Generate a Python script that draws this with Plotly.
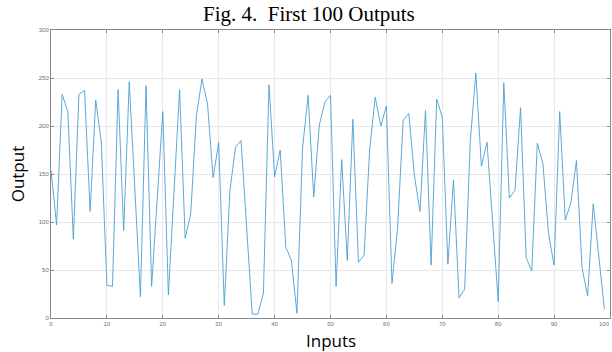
import plotly.graph_objects as go

inputs = list(range(100))
outputs = [154, 97, 233, 215, 82, 233, 237, 111, 227, 183,
           34, 33, 238, 91, 246, 134, 22, 242, 33, 124,
           215, 24, 131, 238, 83, 109, 210, 249, 223, 146,
           183, 13, 132, 178, 185, 95, 4, 4, 26, 243,
           147, 175, 74, 60, 5, 177, 232, 126, 201, 225,
           232, 33, 165, 60, 207, 58, 65, 175, 230, 200,
           221, 36, 94, 206, 213, 149, 111, 216, 55, 228,
           209, 56, 144, 21, 30, 184, 255, 158, 183, 100,
           17, 245, 125, 133, 219, 63, 49, 182, 161, 88,
           55, 215, 102, 120, 164, 52, 23, 119, 64, 9]
x_ticks = list(range(0, 101, 10))
y_ticks = list(range(0, 301, 50))

W, H = 612, 352
L, R, T, B = 50.7, 1.7, 30.3, 33.7
pw, ph = W - L - R, H - T - B

fig = go.Figure()
fig.add_trace(go.Scatter(x=inputs, y=outputs, mode="lines",
                         line=dict(color="#4a9fd0", width=0.9), showlegend=False))

tick_font = dict(family="Liberation Sans", size=6, color="#707070")
axis_common = dict(showline=True, linecolor="#8a8a8a", linewidth=1, mirror="ticks",
                   ticks="inside", ticklen=3, tickcolor="#8a8a8a",
                   showgrid=True, gridcolor="#e8e8e8", gridwidth=1, zeroline=False,
                   tickfont=tick_font)

fig.update_xaxes(range=[0, 100], tickvals=x_ticks, **axis_common)
fig.update_yaxes(range=[0, 300], tickvals=y_ticks, **axis_common)

fig.update_layout(
    width=W, height=H,
    margin=dict(l=L, r=R, t=T, b=B, pad=0),
    plot_bgcolor="white", paper_bgcolor="white",
    annotations=[
        dict(text="Fig. 4.\u00a0\u00a0First 100 Outputs", xref="paper", yref="paper",
             x=(309 - L) / pw, y=(H - B - 14) / ph, showarrow=False,
             xanchor="center", yanchor="middle",
             font=dict(family="Liberation Serif", size=21, color="black")),
        dict(text="Output", xref="paper", yref="paper", textangle=-90,
             x=(17 - L) / pw, y=0.5, showarrow=False, xanchor="center", yanchor="middle",
             font=dict(family="Open Sans", size=17, color="black")),
        dict(text="Inputs", xref="paper", yref="paper",
             x=0.5, y=-(341 - (H - B)) / ph, showarrow=False, xanchor="center", yanchor="middle",
             font=dict(family="Open Sans", size=17, color="black")),
        dict(text=str(x_ticks[-1]), xref="x", yref="paper", x=x_ticks[-1],
             y=-(324 - (H - B)) / ph, showarrow=False, xanchor="right", yanchor="middle",
             xshift=1, borderpad=0, font=tick_font),
    ],
)

fig.write_html("out.html", config={"displayModeBar": False},
               post_script="document.body.style.margin='0';document.body.style.overflow='hidden';")
